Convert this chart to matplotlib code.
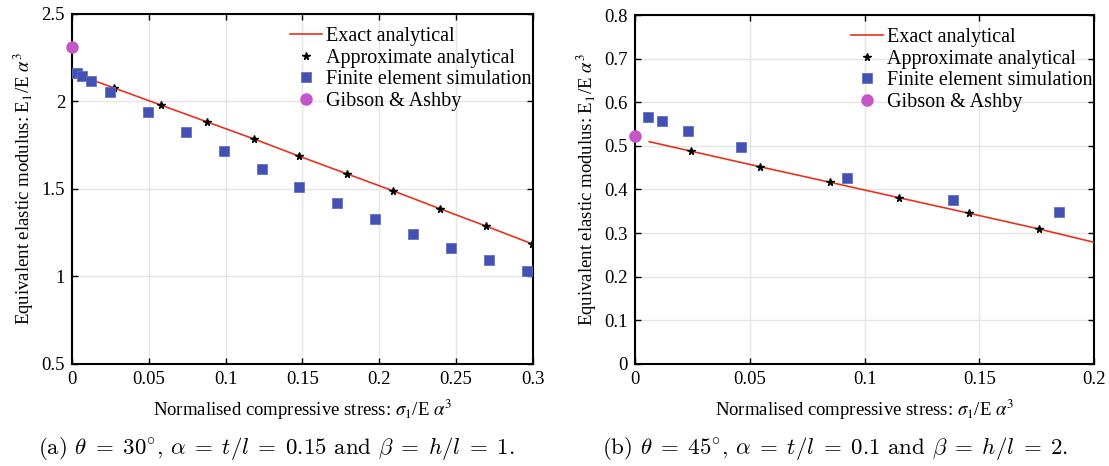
import numpy as np
import matplotlib
matplotlib.use('Agg')
import matplotlib.pyplot as plt

plt.rcParams['font.family'] = ['Liberation Serif', 'DejaVu Serif']
plt.rcParams['font.size'] = 12

# ---- panel (a): theta = 30, alpha = 0.15, beta = 1 ----
exact_x_a = [0.003, 0.0275, 0.0577, 0.088, 0.1184, 0.148, 0.1788, 0.2091, 0.2395, 0.2697, 0.2996]
exact_y_a = [2.155, 2.077, 1.98, 1.883, 1.786, 1.687, 1.587, 1.489, 1.387, 1.287, 1.186]
approx_x_a = [0.0, 0.0275, 0.0577, 0.088, 0.1184, 0.148, 0.1788, 0.2091, 0.2395, 0.2697, 0.2996]
approx_y_a = [2.165, 2.077, 1.98, 1.883, 1.786, 1.687, 1.587, 1.489, 1.387, 1.287, 1.186]
fe_x_a = [0.0033, 0.0065, 0.0124, 0.0247, 0.0495, 0.0742, 0.0989, 0.1236, 0.1477,
          0.1727, 0.1972, 0.2221, 0.2466, 0.2714, 0.2963]
fe_y_a = [2.163, 2.146, 2.117, 2.054, 1.94, 1.826, 1.717, 1.614, 1.512,
          1.418, 1.329, 1.241, 1.163, 1.093, 1.030]
ga_x_a = [0.0]
ga_y_a = [2.31]

# ---- panel (b): theta = 45, alpha = 0.1, beta = 2 ----
exact_x_b = [0.0062, 0.0243, 0.0546, 0.085, 0.1152, 0.1457, 0.176, 0.2]
exact_y_b = [0.5096, 0.488, 0.452, 0.4165, 0.381, 0.3454, 0.3095, 0.279]
approx_x_b = [0.0243, 0.0546, 0.085, 0.1152, 0.1457, 0.176]
approx_y_b = [0.488, 0.452, 0.4165, 0.381, 0.3454, 0.3095]
fe_x_b = [0.0058, 0.0116, 0.0231, 0.0462, 0.0922, 0.1387, 0.1849]
fe_y_b = [0.566, 0.556, 0.534, 0.497, 0.426, 0.376, 0.348]
ga_x_b = [0.0]
ga_y_b = [0.5226]

labels = ['Exact analytical', 'Approximate analytical', 'Finite element simulation', 'Gibson & Ashby']
xlabel = r'Normalised compressive stress: $\sigma_1$/E $\alpha^3$'
ylabel = r'Equivalent elastic modulus: E$_1$/E $\alpha^3$'
captions = [r'(a) $\theta \;=\; 30^{\circ}$, $\alpha \;=\; t/l \;=\; 0.15$ and $\beta \;=\; h/l \;=\; 1.$',
            r'(b) $\theta \;=\; 45^{\circ}$, $\alpha \;=\; t/l \;=\; 0.1$ and $\beta \;=\; h/l \;=\; 2.$']

red = '#e8321e'
blue = '#4350b4'
mag = '#c656c6'

fig = plt.figure(figsize=(11.09, 4.66), dpi=100)
ax1 = fig.add_axes([0.0649, 0.2189, 0.4157, 0.7511])
ax2 = fig.add_axes([0.5726, 0.2189, 0.4139, 0.7489])

panels = [
    (ax1, exact_x_a, exact_y_a, approx_x_a, approx_y_a, fe_x_a, fe_y_a, ga_x_a, ga_y_a,
     (0, 0.3), (0.5, 2.5), [0, 0.05, 0.1, 0.15, 0.2, 0.25, 0.3], [0.5, 1, 1.5, 2, 2.5], 0.473),
    (ax2, exact_x_b, exact_y_b, approx_x_b, approx_y_b, fe_x_b, fe_y_b, ga_x_b, ga_y_b,
     (0, 0.2), (0, 0.8), [0, 0.05, 0.1, 0.15, 0.2], [0, 0.1, 0.2, 0.3, 0.4, 0.5, 0.6, 0.7, 0.8], 0.471),
]

for (ax, ex, ey, axx, ay, fx, fy, gx, gy, xl, yl, xt, yt, lx) in panels:
    ax.plot(ex, ey, color=red, lw=1.2, label=labels[0], zorder=3)
    ax.plot(axx, ay, ls='none', marker='*', ms=5.5, color='black', label=labels[1], zorder=4)
    ax.plot(fx, fy, ls='none', marker='s', ms=6.8, color=blue, mec='#6470c4', mew=0.6,
            label=labels[2], zorder=5)
    ax.plot(gx, gy, ls='none', marker='o', ms=8, color=mag, label=labels[3], zorder=6, clip_on=False)
    ax.set_xlim(*xl)
    ax.set_ylim(*yl)
    ax.set_xticks(xt)
    ax.set_yticks(yt)
    ax.set_xticklabels([('%g' % v) for v in xt])
    ax.set_yticklabels([('%g' % v) for v in yt])
    ax.grid(True, color='#e5e5e5', lw=1.0)
    ax.set_axisbelow(True)
    ax.tick_params(direction='in', top=True, right=True, length=4, width=1, labelsize=13.5, pad=5)
    for s in ax.spines.values():
        s.set_linewidth(1.5)
    ax.set_xlabel(xlabel, fontsize=13.5, math_fontfamily='stix', labelpad=7)
    ax.set_ylabel(ylabel, fontsize=13.5, math_fontfamily='stix', labelpad=4)
    ax.legend(loc='upper left', bbox_to_anchor=(lx, 0.962), frameon=False, fontsize=14.5,
              borderpad=0, handlelength=1.6, handletextpad=0.2, labelspacing=0.12,
              borderaxespad=0)

fig.text(0.249, 1 - 448 / 466, captions[0], ha='center', va='center', fontsize=16.5,
         family='cmr10', math_fontfamily='cm')
fig.text(0.753, 1 - 448 / 466, captions[1], ha='center', va='center', fontsize=16.5,
         family='cmr10', math_fontfamily='cm')

fig.savefig('out.png', dpi=100)
